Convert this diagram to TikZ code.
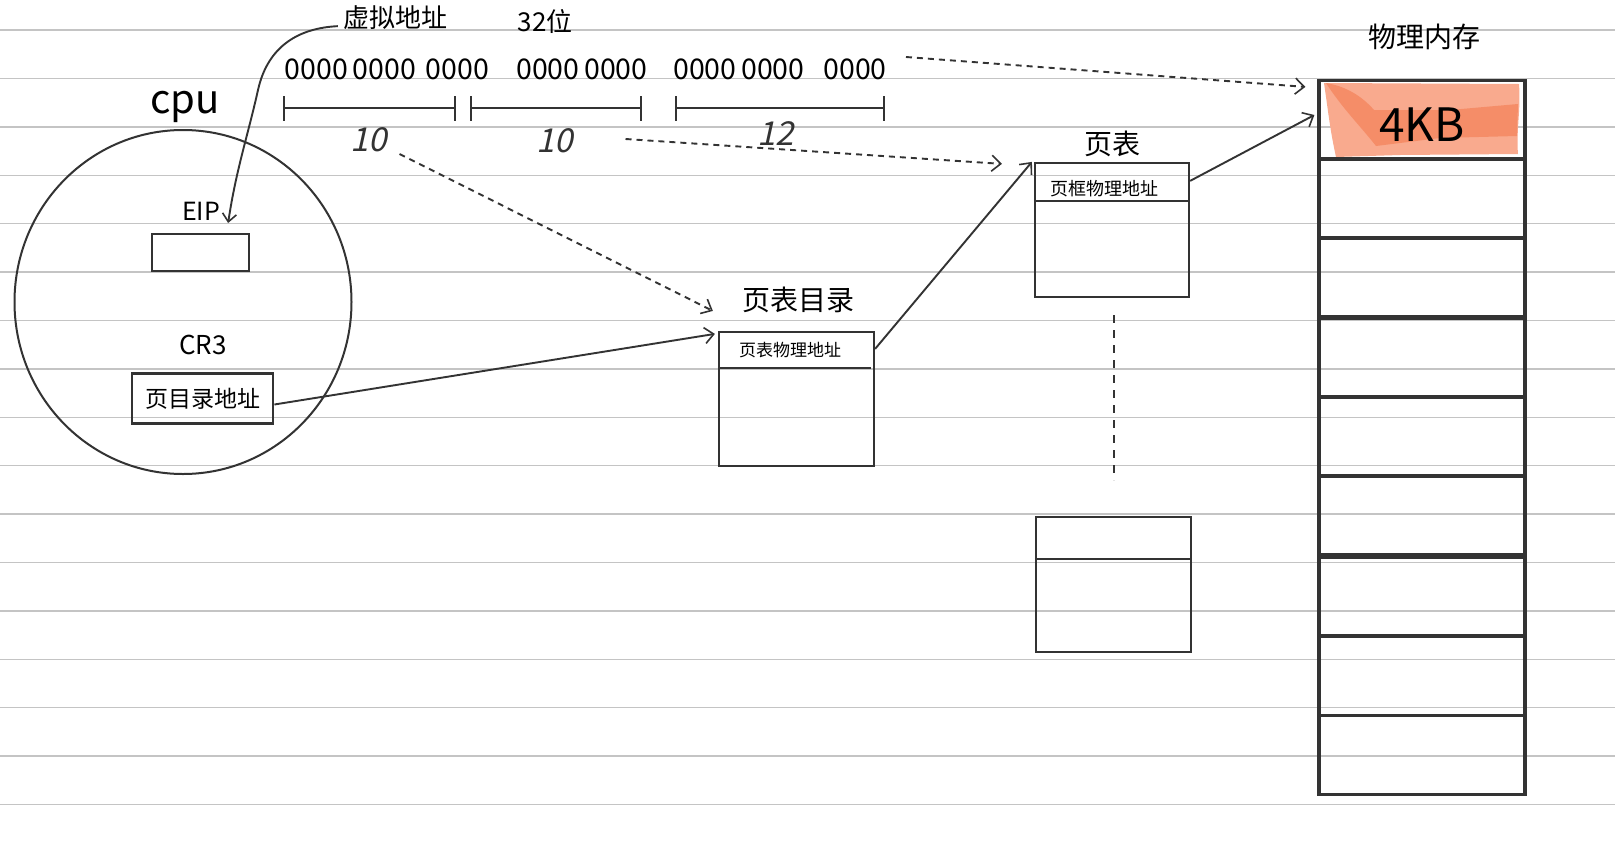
\documentclass[tikz,border=0pt]{standalone}
\usepackage{fontspec}
\setmainfont{Noto Sans CJK SC}
\usetikzlibrary{arrows.meta,calc,shapes.geometric}
\definecolor{ink}{HTML}{333333}
\definecolor{rule}{HTML}{C4C4C4}
\definecolor{salmonA}{HTML}{F9AA8E}
\definecolor{salmonB}{HTML}{F4845C}
\begin{document}
\begin{tikzpicture}[x=1pt,y=-1pt,
  lbl/.style={inner sep=0pt,text=black},
  fs/.style={font=\fontsize{#1}{#1}\selectfont},
  hand/.style={lbl,fs=33,xslant=0.22,text=ink},
  regbox/.style={draw=ink,line width=2pt,rectangle,inner sep=0pt},
  tblbox/.style={draw=ink,line width=2.2pt,rectangle,inner sep=0pt},
  memcell/.style={draw=ink,line width=3.2pt,rectangle,inner sep=0pt,minimum width=206,minimum height=79},
  link/.style={draw=ink,line width=1.9pt,-{Straight Barb[length=9pt,width=16pt,line width=1.6pt]}},
  dlink/.style={link,dash pattern=on 6pt off 5pt},
  seg/.style={draw=ink,line width=2.4pt}
]
\useasboundingbox (0,0) rectangle (1615,841);
\fill[white] (0,0) rectangle (1615,841);
% ruled paper lines
\foreach \k in {0,...,16}{
  \draw[rule,line width=1.4pt] (0,{30+48.4*\k}) -- (1615,{30+48.4*\k});
}
% highlight of first memory cell
\fill[salmonA] (1324,83) -- (1519,84) .. controls (1521,110) and (1516,130) .. (1518,154) -- (1400,155) -- (1336,157) .. controls (1330,130) and (1328,110) .. cycle;
\fill[salmonB,opacity=0.75] (1326,83) .. controls (1345,86) and (1362,96) .. (1374,110) -- (1450,110) -- (1518,104) -- (1517,136) -- (1440,138) -- (1376,146) .. controls (1362,128) and (1342,108) .. cycle;
% top texts
\node[lbl,fs=26] (va) at (395,18) {虚拟地址};
\node[lbl,fs=26] (bits) at (545,22) {32位};
\node[lbl,fs=28.5] (g1) at (387,69) {0000\,0000\,\,0000};
\node[lbl,fs=28.5] (g2) at (582,69) {0000\,0000};
\node[lbl,fs=28.5] (g3) at (780,69) {0000\,0000\,\,\,\,0000};
\node[lbl,fs=40] (cpu) at (185,107) {cpu};
% brackets
\coordinate (s1a) at (284,108); \coordinate (s1b) at (455,108);
\coordinate (s2a) at (471,108); \coordinate (s2b) at (641,108);
\coordinate (s3a) at (676,108); \coordinate (s3b) at (884,108);
\draw[seg] (s1a) -- (s1b); \draw[seg] (s2a) -- (s2b); \draw[seg] (s3a) -- (s3b);
\foreach \c in {s1a,s1b,s2a,s2b,s3a,s3b}{
  \draw[draw=ink,line width=2pt] ($(\c)+(0,-12)$) -- ($(\c)+(0,13)$);
}
\node[hand] (ten1) at (371,140) {10};
\node[hand] (ten2) at (557,141) {10};
\node[hand] (twelve) at (778,134) {12};
% cpu
\node[draw=ink,line width=2pt,ellipse,minimum width=337,minimum height=344,inner sep=0pt] (cpuc) at (183,302) {};
\node[lbl,fs=25] (eip) at (201,211) {EIP};
\node[regbox,minimum width=97,minimum height=37] (eipbox) at (200.5,252.5) {};
\node[lbl,fs=26] (cr3) at (203,345) {CR3};
\node[regbox,line width=2.8pt,minimum width=141,minimum height=50,fs=23] (cr3box) at (202.5,398.5) {页目录地址};
% page directory
\node[lbl,fs=28] (pdt) at (798,300) {页表目录};
\node[tblbox,minimum width=155,minimum height=134] (pdbox) at (796.5,399) {};
\draw[ink,line width=2.2pt] ($(pdbox.north west)+(0,37)$) -- ($(pdbox.north east)+(-4,37)$);
\node[lbl,fs=17] (pde) at (790,350) {页表物理地址};
% page table
\node[lbl,fs=28] (ptt) at (1112,144) {页表};
\node[tblbox,minimum width=154,minimum height=134] (ptbox) at (1112,230) {};
\draw[ink,line width=2.2pt] ($(ptbox.north west)+(0,39)$) -- ($(ptbox.north east)+(0,39)$);
\node[lbl,fs=18] (pte) at (1104,189) {页框物理地址};
\coordinate (vd1) at (1114,315); \coordinate (vd2) at (1114,480);
\draw[ink,line width=2pt,dash pattern=on 8pt off 7pt] (vd1) -- (vd2);
\node[tblbox,minimum width=155,minimum height=135] (pt2box) at (1113.5,584.5) {};
\draw[ink,line width=2.2pt] ($(pt2box.north west)+(0,43)$) -- ($(pt2box.north east)+(0,43)$);
% physical memory
\node[lbl,fs=28] (memt) at (1424,37) {物理内存};
\foreach \i/\y in {1/120,2/198.5,3/277,4/357.5,5/436.5,6/515.5,7/596.5,8/676,9/755}{
  \node[memcell] (cell\i) at (1422,\y) {};
}
\node[lbl,fs=46] (kb) at (1422,125) {4KB};
% connectors
\draw[ink,line width=1.9pt,-{Straight Barb[length=8pt,width=14pt,line width=1.6pt]}]
  ($(va.south west)+(-5,-4)$) .. controls (300,28) and (268,45) .. (258,90)
  .. controls (248,135) and (236,170) .. ($(eip.east)+(8,12)$);
\draw[link] ($(cr3box.east)+(0,6)$) -- ($(pdbox.north west)+(-3,3)$);
\draw[link] ($(pdbox.north east)+(0,18)$) -- ($(ptbox.north west)+(-2,0)$);
\draw[link] ($(ptbox.north east)+(0,19)$) -- ($(cell1.west)+(-3,-5)$);
\draw[dlink] ($(ten1.east)+(10,14)$) -- ($(pdbox.north west)+(-5,-20)$);
\draw[dlink] ($(ten2.east)+(50,-2)$) -- ($(ptbox.north west)+(-32,2)$);
\draw[dlink] ($(g3.east)+(19,-12)$) -- ($(cell1.north west)+(-12,8)$);
\end{tikzpicture}
\end{document}
